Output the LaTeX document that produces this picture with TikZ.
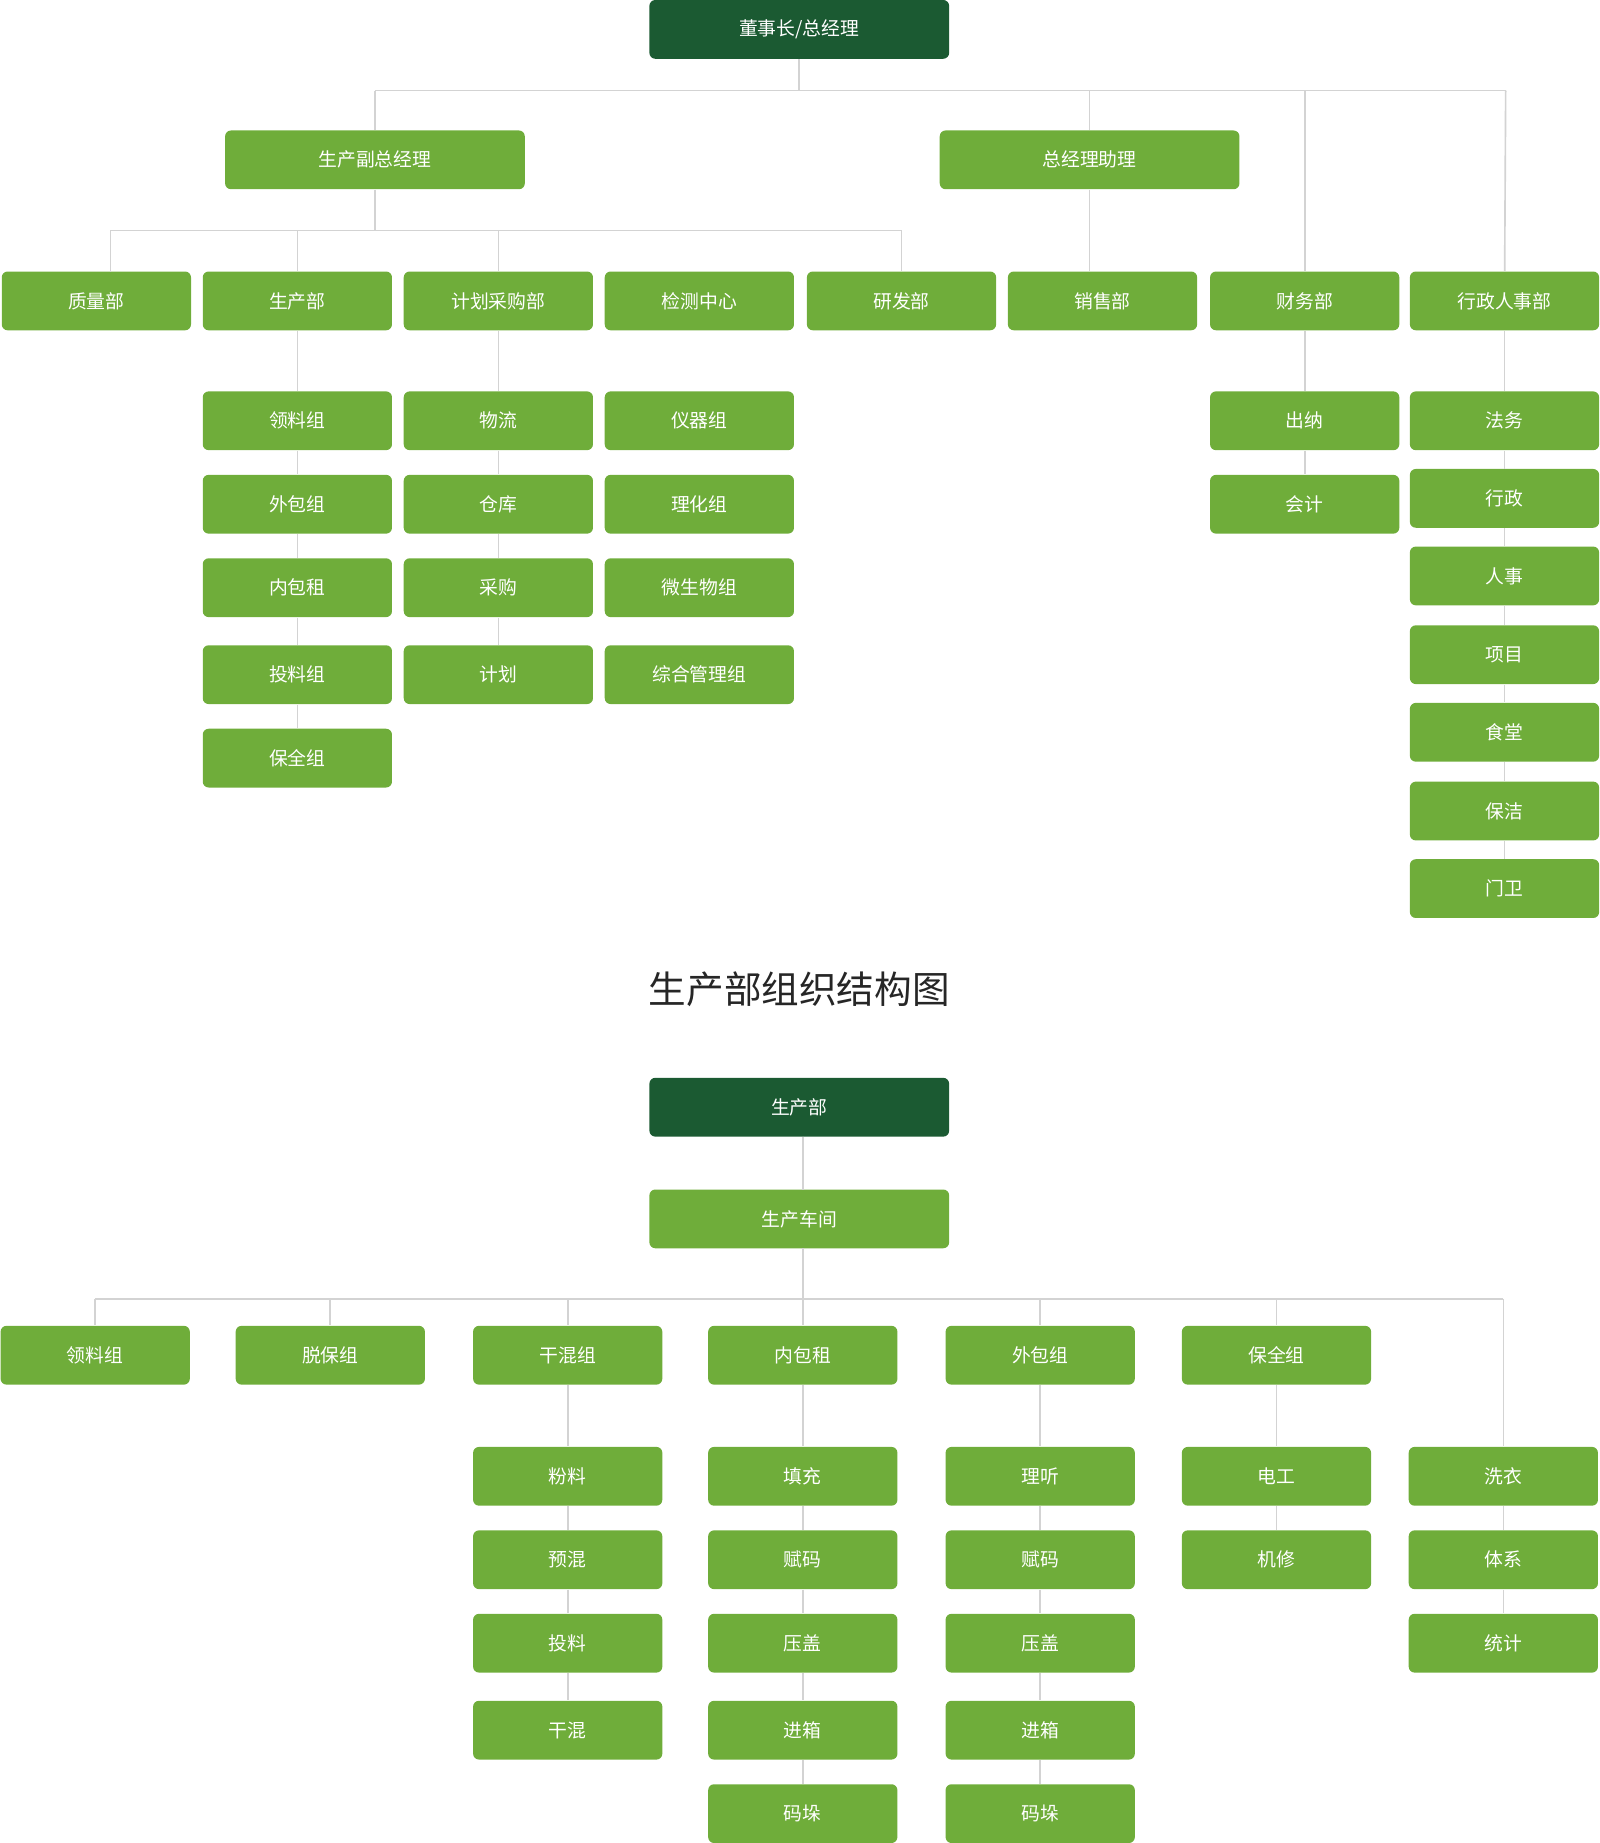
\documentclass[tikz,border=0pt]{standalone}
\usepackage{fontspec}
\newfontfamily\cjk{Noto Sans CJK SC}
\definecolor{dg}{HTML}{1B5A32}
\definecolor{lg}{HTML}{6FAD3A}
\definecolor{ln}{HTML}{D3D3D3}
\begin{document}
\begin{tikzpicture}[x=0.5pt,y=-0.5pt,
 b/.style={fill=lg,rounded corners=2.5pt,minimum width=80.5pt,minimum height=25pt,inner sep=0,text=white,font=\cjk\fontsize{8}{8}\selectfont},
 w/.style={b,minimum width=127.5pt},
 d/.style={w,fill=dg},
 c/.style={draw=ln,line width=0.7pt}]
\useasboundingbox (0,0) rectangle (1361,1568);
% top
\node[d] (ceo) at (680,25) {董事长/总经理};
\node[w] (fz) at (319,136) {生产副总经理};
\node[w] (zl) at (927,136) {总经理助理};
\foreach \n/\x/\t in {zlb/82/质量部,scb/253/生产部,jh/424/计划采购部,jc/595/检测中心,yf/767/研发部,xs/938/销售部,cw/1110/财务部,xz/1280/行政人事部}
 \node[b] (\n) at (\x,256) {\t};
\coordinate (t0) at (680,77);
\coordinate (tl) at (319,77);\coordinate (tr) at (1281,77);
\draw[c] (ceo) -- (t0); \draw[c] (tl) -- (tr);
\draw[c] (tl) -- (fz); \draw[c] (927,77) -- (zl);
\draw[c] (1110,77) -- (cw); \draw[c] (tr) -- (xz);
\draw[c] (zl) -- (zl|-xs.north);
\coordinate (h1) at (319,196); \coordinate (h1l) at (94,196); \coordinate (h1r) at (767,196);
\draw[c] (fz) -- (h1); \draw[c] (h1l) -- (h1r);
\draw[c] (h1l) -- (94,231); \draw[c] (253,196) -- (scb); \draw[c] (424,196) -- (jh); \draw[c] (h1r) -- (yf);
% columns
\foreach \n/\y/\t [remember=\n as \p (initially scb)] in {s1/358/领料组,s2/429/外包组,s3/500/内包租,s4/574/投料组,s5/645/保全组}
 {\node[b] (\n) at (253,\y) {\t}; \draw[c] (\p) -- (\n);}
\foreach \n/\y/\t [remember=\n as \p (initially jh)] in {j1/358/物流,j2/429/仓库,j3/500/采购,j4/574/计划}
 {\node[b] (\n) at (424,\y) {\t}; \draw[c] (\p) -- (\n);}
\foreach \n/\y/\t in {k1/358/仪器组,k2/429/理化组,k3/500/微生物组,k4/574/综合管理组}
 \node[b] (\n) at (595,\y) {\t};
\foreach \n/\y/\t [remember=\n as \p (initially cw)] in {c1/358/出纳,c2/429/会计}
 {\node[b] (\n) at (1110,\y) {\t}; \draw[c] (\p) -- (\n);}
\foreach \n/\y/\t [remember=\n as \p (initially xz)] in {x1/358/法务,x2/424/行政,x3/490/人事,x4/557/项目,x5/623/食堂,x6/690/保洁,x7/756/门卫}
 {\node[b] (\n) at (1280,\y) {\t}; \draw[c] (\p) -- (\n);}
% title
\node[font=\cjk\fontsize{16}{16}\selectfont,text=black!85] (title) at (680,842) {生产部组织结构图};
% bottom
\node[d] (p0) at (680,942) {生产部};
\node[w] (p1) at (680,1037) {生产车间};
\draw[c] (683,967) -- (683,1012);
\coordinate (bb) at (683,1105); \coordinate (bl) at (81,1105); \coordinate (br) at (1279,1105);
\draw[c] (683,1062) -- (bb); \draw[c] (bl) -- (br);
\foreach \n/\x/\t in {g1/81/领料组,g2/281/脱保组,g3/483/干混组,g4/683/内包租,g5/885/外包组,g6/1086/保全组}
 {\node[b] (\n) at (\x,1153) {\t}; \draw[c] (\n|-bb) -- (\n);}
\foreach \n/\y/\t [remember=\n as \p (initially g3)] in {a1/1256/粉料,a2/1327/预混,a3/1398/投料,a4/1472/干混}
 {\node[b] (\n) at (483,\y) {\t}; \draw[c] (\p) -- (\n);}
\foreach \n/\y/\t [remember=\n as \p (initially g4)] in {n1/1256/填充,n2/1327/赋码,n3/1398/压盖,n4/1472/进箱,n5/1543/码垛}
 {\node[b] (\n) at (683,\y) {\t}; \draw[c] (\p) -- (\n);}
\foreach \n/\y/\t [remember=\n as \p (initially g5)] in {o1/1256/理听,o2/1327/赋码,o3/1398/压盖,o4/1472/进箱,o5/1543/码垛}
 {\node[b] (\n) at (885,\y) {\t}; \draw[c] (\p) -- (\n);}
\foreach \n/\y/\t [remember=\n as \p (initially g6)] in {e1/1256/电工,e2/1327/机修}
 {\node[b] (\n) at (1086,\y) {\t}; \draw[c] (\p) -- (\n);}
\node[b] (w1) at (1279,1256) {洗衣};
\draw[c] (br) -- (w1);
\foreach \n/\y/\t [remember=\n as \p (initially w1)] in {w2/1327/体系,w3/1398/统计}
 {\node[b] (\n) at (1279,\y) {\t}; \draw[c] (\p) -- (\n);}
\end{tikzpicture}
\end{document}
